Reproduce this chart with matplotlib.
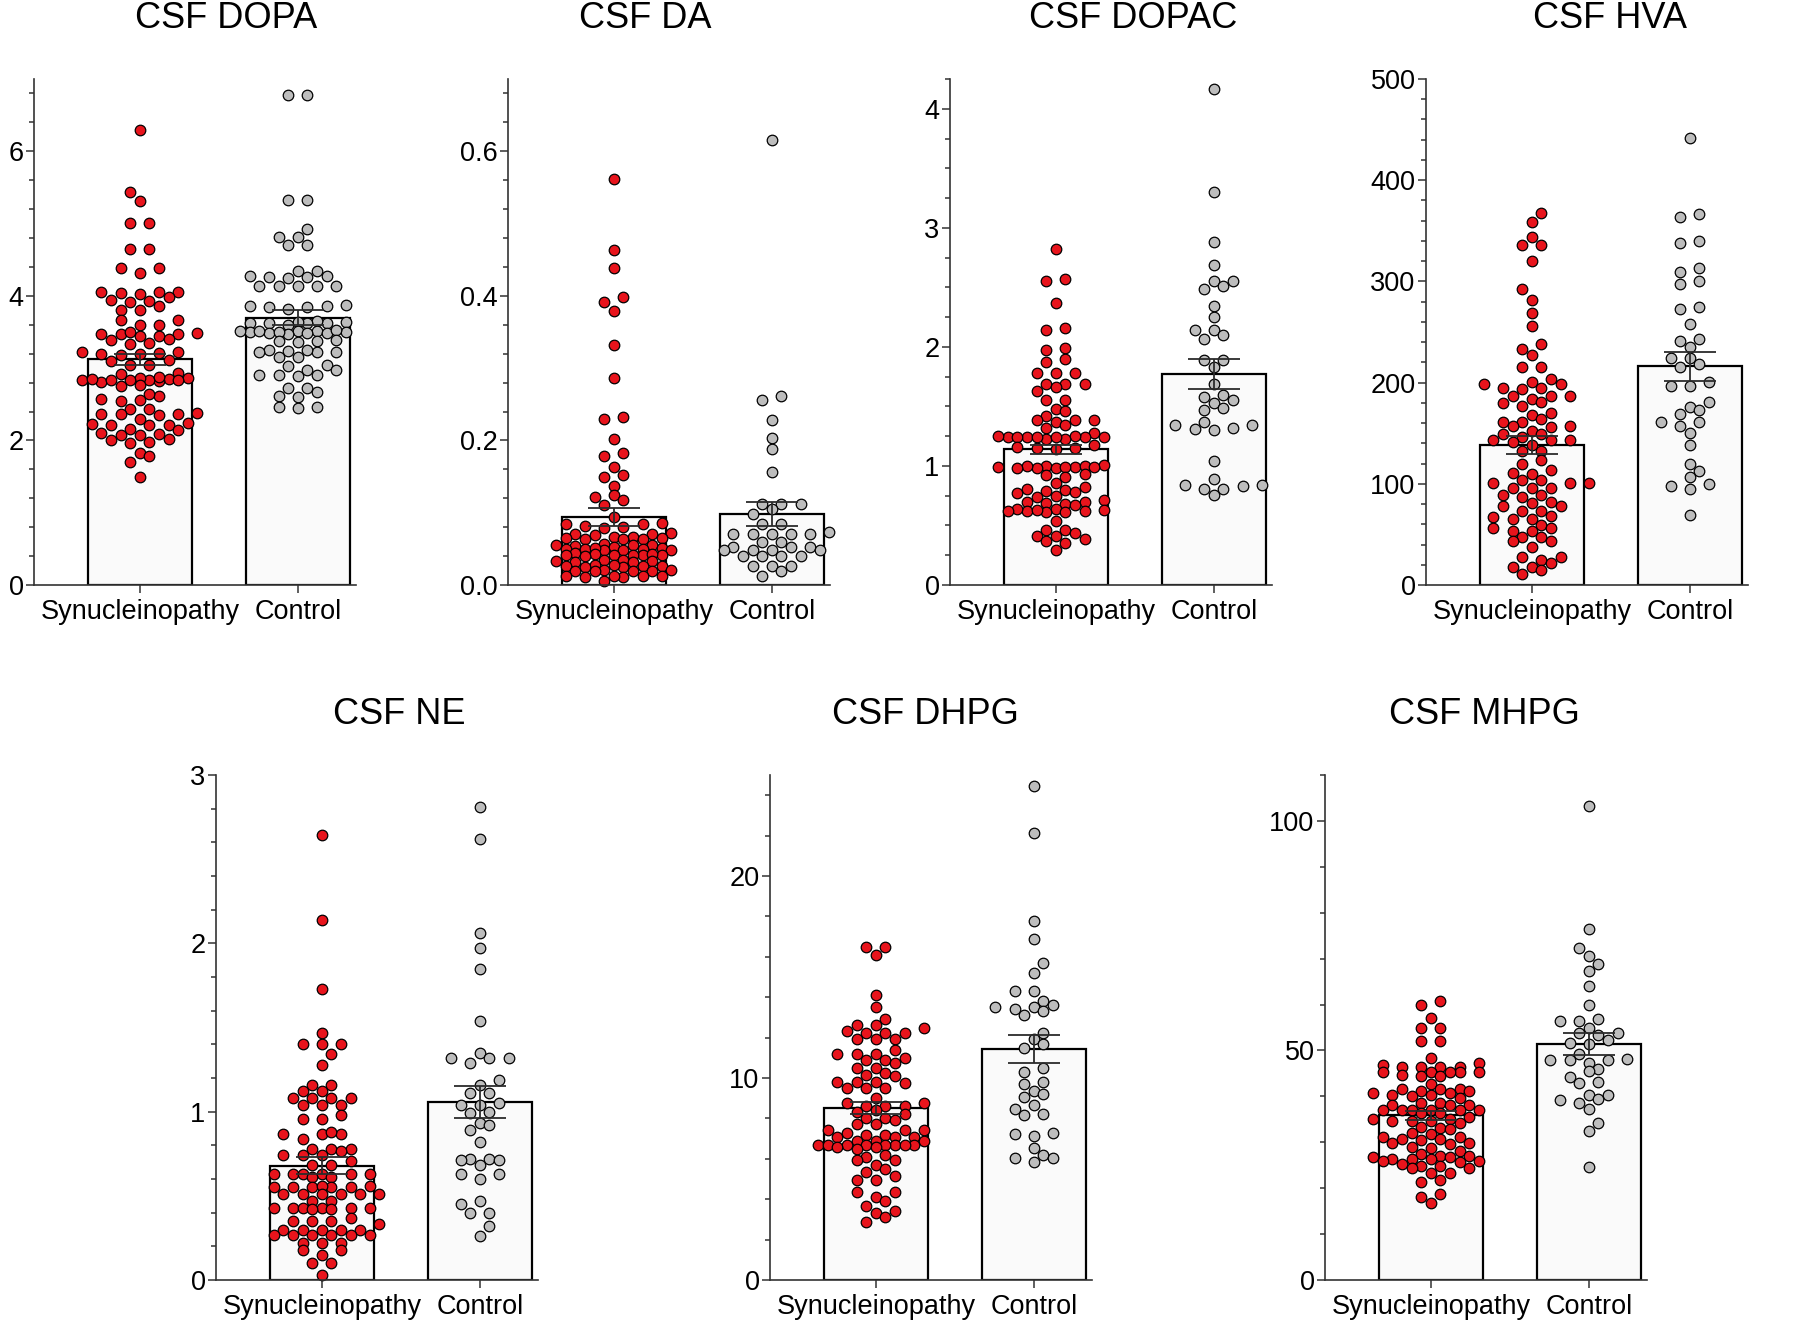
import matplotlib
matplotlib.use('Agg')
import matplotlib.pyplot as plt
from matplotlib.ticker import MultipleLocator, FormatStrFormatter

plt.rcParams['font.family'] = ['Liberation Sans', 'DejaVu Sans']

groups = ['Synucleinopathy', 'Control']

# values (one point per subject)
dopa_syn = [6.29, 5.43, 5.31, 5.01, 5.01, 4.65, 4.65, 4.38, 4.38, 4.32,
            4.05, 4.06, 4.03, 4.06, 4.04, 3.93, 3.94, 3.92, 3.99,
            3.86, 3.80, 3.80, 3.66, 3.66, 3.59, 3.59,
            3.47, 3.49, 3.44, 3.47, 3.50, 3.45, 3.47, 3.40, 3.39, 3.33, 3.35,
            3.22, 3.20, 3.23, 3.18, 3.21, 3.19, 3.10, 3.11, 3.04, 3.05, 2.92, 2.93,
            2.85, 2.83, 2.82, 2.86, 2.84, 2.83, 2.81, 2.84, 2.86, 2.83, 2.88, 2.85,
            2.76, 2.75, 2.62, 2.64, 2.55, 2.56, 2.57,
            2.43, 2.44, 2.36, 2.37, 2.35, 2.36, 2.38, 2.30,
            2.22, 2.23, 2.21, 2.24, 2.22, 2.15, 2.16,
            2.08, 2.09, 2.07, 2.10, 2.02, 2.01, 1.98, 1.97,
            1.83, 1.78, 1.70, 1.49]
dopa_ctl = [6.78, 6.78, 5.32, 5.32, 4.92, 4.82, 4.82, 4.70, 4.70, 4.35, 4.35,
            4.27, 4.26, 4.27, 4.26, 4.25, 4.14, 4.13, 4.14, 4.13, 4.14,
            3.86, 3.88, 3.85, 3.84, 3.82, 3.86,
            3.64, 3.63, 3.65, 3.62, 3.63, 3.64, 3.62, 3.60,
            3.52, 3.50, 3.49, 3.51, 3.50, 3.48, 3.52, 3.49, 3.51, 3.47, 3.50, 3.53,
            3.38, 3.36, 3.37, 3.39, 3.25, 3.23, 3.24, 3.22, 3.25, 3.23,
            3.16, 3.15, 3.04, 3.03, 2.97, 2.98, 2.90, 2.91, 2.89, 2.90,
            2.72, 2.73, 2.67, 2.60, 2.61, 2.46, 2.45, 2.46]

da_syn = [0.562, 0.464, 0.438, 0.398, 0.392, 0.379, 0.332, 0.287, 0.233, 0.229,
          0.202, 0.183, 0.179, 0.163, 0.152, 0.149, 0.137, 0.125, 0.122, 0.117, 0.111,
          0.094, 0.085, 0.086, 0.084, 0.080, 0.079, 0.081,
          0.071, 0.070, 0.072, 0.069,
          0.065, 0.066, 0.064, 0.065, 0.066, 0.064, 0.063,
          0.055, 0.056, 0.054, 0.057, 0.055, 0.053,
          0.050, 0.049, 0.051, 0.050, 0.048, 0.050, 0.049, 0.051,
          0.042, 0.043, 0.041, 0.042, 0.044, 0.042, 0.040, 0.043, 0.041,
          0.033, 0.034, 0.032, 0.033, 0.035, 0.032,
          0.026, 0.027, 0.025, 0.026, 0.028, 0.025, 0.026,
          0.020, 0.021, 0.019, 0.020, 0.021, 0.019,
          0.012, 0.013, 0.011, 0.012, 0.013, 0.011, 0.006]
da_ctl = [0.615, 0.262, 0.256, 0.228, 0.203, 0.188, 0.157, 0.112, 0.112, 0.112,
          0.105, 0.098, 0.084, 0.084, 0.073, 0.071, 0.071, 0.071, 0.071, 0.071,
          0.059, 0.059, 0.052, 0.052, 0.052, 0.048, 0.048, 0.048, 0.048,
          0.040, 0.040, 0.040, 0.040, 0.026, 0.026, 0.026, 0.020, 0.013]

dopac_syn = [2.82, 2.57, 2.55, 2.37, 2.16, 2.14, 1.99, 1.97, 1.90, 1.87,
             1.78, 1.78, 1.78, 1.69, 1.69, 1.69, 1.66, 1.63, 1.55, 1.55, 1.48, 1.46, 1.42,
             1.39, 1.39, 1.39, 1.37, 1.34, 1.32, 1.28,
             1.24, 1.24, 1.25, 1.24, 1.23, 1.24, 1.25, 1.24, 1.23, 1.24, 1.24,
             1.15, 1.14, 1.16, 1.15, 1.18,
             1.00, 0.99, 0.99, 1.01, 0.98, 1.00, 0.99, 0.98, 1.00, 0.99, 0.98,
             0.93, 0.92, 0.91, 0.86, 0.80, 0.81, 0.82, 0.79, 0.78, 0.77, 0.75, 0.74,
             0.70, 0.69, 0.71, 0.68, 0.70, 0.67,
             0.63, 0.62, 0.64, 0.61, 0.63, 0.62, 0.64, 0.61, 0.62,
             0.54, 0.46, 0.46, 0.44, 0.41, 0.41, 0.39, 0.37, 0.35, 0.29]
dopac_ctl = [4.17, 3.30, 2.88, 2.69, 2.55, 2.55, 2.51, 2.49, 2.34, 2.25,
             2.14, 2.14, 2.10, 2.07, 1.89, 1.89, 1.83, 1.69, 1.60, 1.58,
             1.55, 1.53, 1.49, 1.47, 1.37, 1.34, 1.34, 1.32, 1.31, 1.30,
             1.04, 0.89, 0.84, 0.84, 0.83, 0.81, 0.81, 0.76]

hva_syn = [368, 359, 344, 336, 336, 320, 292, 282, 269, 256, 238, 233, 227, 215, 215,
           204, 201, 199, 199, 195, 195, 194, 187, 187, 187, 184, 181, 180, 177,
           170, 168, 164, 161, 161, 157, 157, 156, 152, 149, 149, 146, 143, 143, 143, 141, 138,
           132, 132, 124, 120, 114, 111, 110, 104, 104, 101, 101, 101, 96, 96, 96,
           89, 89, 87, 82, 81, 78, 78, 73, 73, 68, 67, 65, 65,
           59, 56, 56, 53, 53, 47, 47, 43, 43, 38, 28, 28, 25, 22, 18, 18, 15, 11]
hva_ctl = [442, 367, 364, 340, 338, 313, 309, 300, 297, 275, 273, 258, 243, 241, 235,
           224, 224, 218, 215, 201, 197, 197, 181, 176, 173, 169, 161, 161, 157, 150,
           138, 120, 113, 107, 100, 98, 95, 69]

ne_syn = [2.645, 2.14, 1.73, 1.47, 1.40, 1.40, 1.40, 1.34, 1.28, 1.16, 1.16, 1.12, 1.12,
          1.08, 1.08, 1.08, 1.08, 1.04, 1.04, 1.04, 0.98, 0.955, 0.955,
          0.87, 0.87, 0.87, 0.88, 0.84, 0.78, 0.78, 0.78, 0.765, 0.74, 0.74, 0.74,
          0.705, 0.685, 0.685, 0.63, 0.63, 0.63, 0.63, 0.63, 0.63, 0.61, 0.61,
          0.55, 0.55, 0.55, 0.55, 0.55, 0.56, 0.56, 0.51, 0.51, 0.51, 0.51, 0.51, 0.51,
          0.47, 0.47, 0.43, 0.43, 0.43, 0.43, 0.43, 0.43, 0.42, 0.42,
          0.37, 0.35, 0.35, 0.35, 0.33, 0.30, 0.30, 0.30, 0.30, 0.30,
          0.27, 0.27, 0.27, 0.27, 0.27, 0.27, 0.22, 0.22, 0.22,
          0.18, 0.18, 0.15, 0.10, 0.10, 0.03]
ne_ctl = [2.81, 2.62, 2.06, 1.97, 1.85, 1.54, 1.35, 1.32, 1.32, 1.32, 1.29, 1.19,
          1.16, 1.11, 1.11, 1.05, 1.04, 1.04, 1.00, 0.99, 0.93, 0.92, 0.89, 0.82,
          0.72, 0.72, 0.71, 0.71, 0.685, 0.63, 0.63, 0.60, 0.47, 0.45, 0.40, 0.40, 0.32, 0.26]

dhpg_syn = [16.5, 16.5, 16.1, 14.1, 13.5, 12.9, 12.6, 12.6, 12.5, 12.35,
            12.24, 12.24, 12.24, 11.94, 11.94, 11.94, 11.4, 11.2, 11.2, 11.2,
            11.0, 10.9, 10.9, 10.74, 10.5, 10.5, 10.26, 10.14, 10.1,
            9.82, 9.82, 9.82, 9.74, 9.52, 9.52, 9.52, 9.0, 8.77, 8.77,
            8.6, 8.6, 8.6, 8.4, 8.3, 8.2, 8.0, 8.0, 7.9, 7.7, 7.7,
            7.44, 7.44, 7.44, 7.27, 7.2, 7.2, 7.1, 7.1, 7.1,
            6.9, 6.9, 6.9, 6.7, 6.7, 6.7, 6.7, 6.7, 6.7, 6.7, 6.7,
            6.56, 6.56, 6.47, 6.2, 6.07, 5.94, 5.94, 5.7, 5.5, 5.36, 5.15,
            4.94, 4.94, 4.36, 4.36, 4.13, 3.9, 3.65, 3.42, 3.3, 3.12, 2.86]
dhpg_ctl = [24.44, 22.15, 17.76, 16.9, 15.68, 15.19, 14.32, 14.32, 13.83, 13.6,
            13.5, 13.5, 13.4, 13.3, 13.1, 12.24, 11.94, 11.67, 11.5, 10.5,
            10.3, 9.82, 9.7, 9.38, 9.2, 9.07, 8.64, 8.47, 8.24, 8.15,
            7.3, 7.23, 7.13, 6.53, 6.2, 6.03, 6.03, 5.86]

mhpg_syn = [60.8, 60.0, 57.1, 54.8, 54.8, 52.05, 52.05, 48.3, 47.2, 46.9,
            46.5, 46.5, 46.5, 46.5, 45.2, 45.2, 45.2, 45.2, 45.2, 44.7, 44.4, 44.4,
            42.6, 41.6, 41.6, 41.6, 41.1, 41.1, 40.7, 40.7, 40.4, 40.4, 40.0, 39.7,
            38.5, 38.5, 38.2, 38.2, 38.2, 37.0, 37.0, 37.0, 37.0, 37.0, 37.0,
            36.4, 36.4, 35.6, 35.1, 35.1, 34.6, 34.6, 34.6, 34.1, 33.3, 33.1, 32.9,
            32.1, 31.8, 31.2, 31.2, 30.8, 30.8, 30.4, 29.8, 29.8, 29.7, 29.0, 28.7,
            28.1, 27.5, 27.1, 27.1, 26.7, 26.7, 26.3, 26.3, 26.3, 25.9, 25.9, 25.6,
            25.3, 24.8, 24.8, 24.4, 24.4, 23.2, 23.2, 21.7, 21.3, 18.8, 18.0, 16.7]
mhpg_ctl = [103.3, 76.5, 72.3, 70.6, 68.9, 67.3, 64.1, 59.9, 56.9, 56.4, 56.4,
            54.8, 53.7, 53.7, 53.4, 52.3, 51.7, 51.5, 49.2, 48.2, 47.9, 47.9, 47.9,
            47.2, 45.9, 45.5, 44.3, 43.1, 43.0, 40.3, 40.3, 39.5, 39.3, 38.6,
            37.2, 34.2, 32.5, 24.6]

# bar heights (mean) and error bars (SEM) as drawn
dopa_mean, dopa_sem = [3.12, 3.70], [0.08, 0.11]
da_mean, da_sem = [0.094, 0.098], [0.012, 0.017]
dopac_mean, dopac_sem = [1.14, 1.77], [0.04, 0.125]
hva_mean, hva_sem = [138.7, 216.0], [9.0, 14.5]
ne_mean, ne_sem = [0.68, 1.056], [0.048, 0.095]
dhpg_mean, dhpg_sem = [8.5, 11.43], [0.3, 0.7]
mhpg_mean, mhpg_sem = [35.9, 51.4], [1.0, 2.4]

panels = [
    ('CSF DOPA', dopa_syn, dopa_ctl, dopa_mean, dopa_sem, 7, 2, 0.4, '%d'),
    ('CSF DA', da_syn, da_ctl, da_mean, da_sem, 0.70, 0.2, 0.04, '%.1f'),
    ('CSF DOPAC', dopac_syn, dopac_ctl, dopac_mean, dopac_sem, 4.25, 1, 0.25, '%d'),
    ('CSF HVA', hva_syn, hva_ctl, hva_mean, hva_sem, 500, 100, 20, '%d'),
    ('CSF NE', ne_syn, ne_ctl, ne_mean, ne_sem, 3, 1, 0.2, '%d'),
    ('CSF DHPG', dhpg_syn, dhpg_ctl, dhpg_mean, dhpg_sem, 25, 10, 2, '%d'),
    ('CSF MHPG', mhpg_syn, mhpg_ctl, mhpg_mean, mhpg_sem, 110, 50, 10, '%d'),
]
colors = ['#e8141c', '#bdbdbd']

# layout in pixels of the 1800x1326 figure
W, H = 1800, 1326
lefts = [34, 508, 950, 1426, 216, 770, 1325]
tops = [79, 79, 79, 79, 775, 775, 775]
bottoms = [585, 585, 585, 585, 1280, 1280, 1280]
title_x = [226, 645, 1133, 1610, 399, 925, 1484]
title_y = [19, 19, 19, 19, 714, 714, 714]
xmin, xmax = -0.67, 1.37
px_per_cat = 158
marker_pt = 7.6
marker_px = marker_pt * 100 / 72
u = 9.6            # half the spacing between dots of one row (px)
row_h = 5.8        # dots closer than this in y share a row (px)
row_max = 6


def swarm_x(ax, center, values):
    # GraphPad-style column scatter: rows of dots 2u apart, neighbouring rows interleaved
    ys = ax.transData.transform([(center, v) for v in values])[:, 1]
    order = sorted(range(len(values)), key=lambda k: ys[k])
    rows = []
    for k in order:
        if rows and ys[k] - ys[rows[-1][0]] < row_h and len(rows[-1]) < row_max:
            rows[-1].append(k)
        else:
            rows.append([k])
    offs = [0.0] * len(values)
    prev_phase, prev_y = None, -1e9
    flip = 1
    for row in rows:
        n = len(row)
        y0 = ys[row[0]]
        phase = (n + 1) % 2
        shift = 0.0
        if phase == prev_phase and y0 - prev_y < marker_px:
            shift = flip * u
            flip = -flip
            phase = 1 - phase
        slots = sorted([(i - (n - 1) / 2) * 2 * u for i in range(n)], key=abs)
        for k, s in zip(row, slots):
            offs[k] = s + shift
        prev_phase, prev_y = phase, y0
    return [center + o / px_per_cat for o in offs]


fig = plt.figure(figsize=(18, 13.26), dpi=100)

for i, (title, syn, ctl, mean, sem, ytop, major, minor, fmt) in enumerate(panels):
    w = (xmax - xmin) * px_per_cat
    ax = fig.add_axes([lefts[i] / W, 1 - bottoms[i] / H, w / W, (bottoms[i] - tops[i]) / H])
    ax.set_xlim(xmin, xmax)
    ax.set_ylim(0, ytop)

    ax.bar([0, 1], mean, width=0.66, color='#fafafa', edgecolor='black', linewidth=1.6, zorder=1)

    for j, vals in enumerate([syn, ctl]):
        ax.scatter(swarm_x(ax, j, vals), vals, s=marker_pt ** 2, c=colors[j],
                   edgecolors='black', linewidths=0.9, zorder=2, clip_on=False)

    ax.errorbar([0, 1], mean, yerr=sem, fmt='none', ecolor='#2b2b2b', elinewidth=1.3,
                capsize=19, capthick=1.3, zorder=3)

    ax.set_xticks([0, 1])
    ax.set_xticklabels(groups, fontsize=19.5)
    ax.yaxis.set_major_locator(MultipleLocator(major))
    ax.yaxis.set_minor_locator(MultipleLocator(minor))
    ax.yaxis.set_major_formatter(FormatStrFormatter(fmt))
    ax.tick_params(axis='y', labelsize=19.5, length=6, width=1.1, color='#333333', pad=1.5)
    ax.tick_params(axis='y', which='minor', length=3.6, width=1.1, color='#333333')
    ax.tick_params(axis='x', length=6, width=1.1, color='#333333', pad=4)
    for s in ['top', 'right']:
        ax.spines[s].set_visible(False)
    for s in ['left', 'bottom']:
        ax.spines[s].set_color('#333333')
        ax.spines[s].set_linewidth(1.2)
    ax.set_facecolor('none')

    fig.text(title_x[i] / W, 1 - title_y[i] / H, title, ha='center', va='center', fontsize=26)

fig.savefig('out.png', dpi=100)
